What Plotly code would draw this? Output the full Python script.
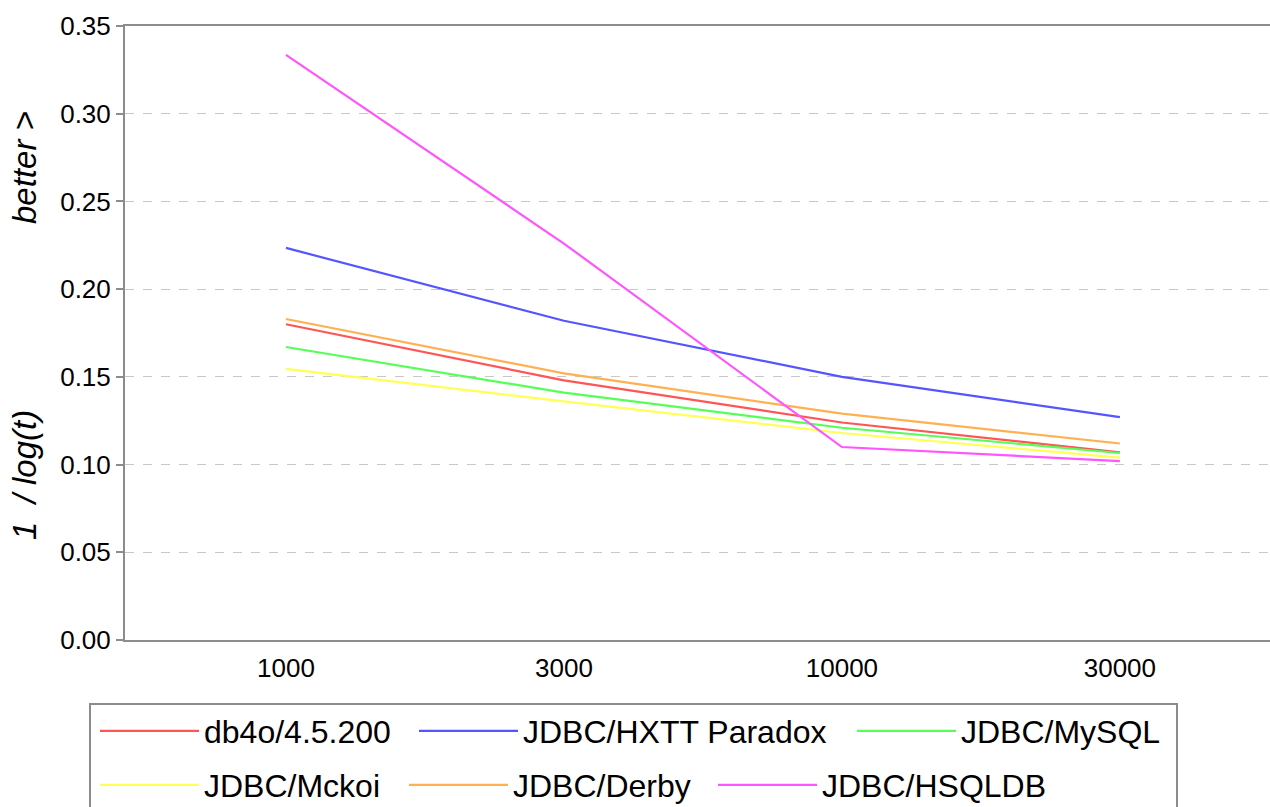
import plotly.graph_objects as go

categories = ["1000", "3000", "10000", "30000"]
series_names = ["db4o/4.5.200", "JDBC/HXTT Paradox", "JDBC/MySQL",
                "JDBC/Mckoi", "JDBC/Derby", "JDBC/HSQLDB"]
db4o = [0.180, 0.148, 0.124, 0.107]
hxtt = [0.2235, 0.182, 0.150, 0.127]
mysql = [0.167, 0.141, 0.121, 0.1066]
mckoi = [0.1545, 0.136, 0.118, 0.104]
derby = [0.183, 0.152, 0.129, 0.112]
hsqldb = [0.3335, 0.226, 0.110, 0.102]
y_ticks = [0.00, 0.05, 0.10, 0.15, 0.20, 0.25, 0.30, 0.35]

values = [db4o, hxtt, mysql, mckoi, derby, hsqldb]
colors = ["#ff5555", "#5555ff", "#55ff55", "#ffff55", "#ffb050", "#ff55ff"]

FONT = "Liberation Sans, Arial, sans-serif"
OFF = 0  # body margin removed via post_script
PL, PT, PW, PH = 125 - OFF, 26 - OFF, 1145, 614
FW, FH = 1270 - OFF, 807 - OFF


def px_x(p):
    return (p - OFF - PL) / PW


def px_y(p):
    return (PT + PH - (p - OFF)) / PH


fig = go.Figure()
legend_ids = ["legend", "legend2", "legend3", "legend4", "legend5", "legend6"]
for name, vals, col, lid in zip(series_names, values, colors, legend_ids):
    fig.add_trace(go.Scatter(x=categories, y=vals, mode="lines", name=name,
                             line=dict(color=col, width=2.2), legend=lid,
                             showlegend=True))

# legend anchor positions (window pixels) for each legend
leg_pos = [(95, 731), (414, 731), (852, 731), (95, 785), (404, 785), (713, 785)]
layout_legends = {}
for lid, (lx, ly) in zip(legend_ids, leg_pos):
    layout_legends[lid] = dict(
        x=px_x(lx), y=px_y(ly), xanchor="left", yanchor="middle",
        xref="paper", yref="paper", orientation="v",
        bgcolor="rgba(0,0,0,0)", borderwidth=0, itemwidth=99,
        font=dict(family=FONT, size=32, color="#000"),
        itemclick=False, itemdoubleclick=False,
    )

fig.update_layout(
    width=FW, height=FH,
    showlegend=True,
    margin=dict(l=PL, r=FW - PL - PW, t=PT, b=FH - PT - PH, autoexpand=False),
    paper_bgcolor="white", plot_bgcolor="white",
    font=dict(family=FONT, size=26, color="#000"),
    **layout_legends,
    xaxis=dict(type="category", range=[-0.579, 3.54], showgrid=False,
               showline=True, linecolor="#8c8c8c", linewidth=2, mirror=True,
               ticks="", tickfont=dict(size=26), ticklabelstandoff=4,
               zeroline=False),
    yaxis=dict(range=[0, 0.35], tickvals=y_ticks, tickformat=".2f",
               showgrid=True, gridcolor="#c8c8c8", griddash="dash",
               gridwidth=1, showline=True, linecolor="#8c8c8c", linewidth=2,
               ticks="outside", ticklen=7, tickcolor="#8c8c8c", tickwidth=2,
               tickfont=dict(size=26), zeroline=False),
    shapes=[dict(type="rect", xref="paper", yref="paper",
                 x0=px_x(90), x1=px_x(1177), y0=px_y(704), y1=px_y(840),
                 line=dict(color="#8c8c8c", width=2), fillcolor="rgba(0,0,0,0)")],
    annotations=[
        dict(text="<i>better &gt;</i>", xref="paper", yref="paper",
             x=px_x(24), y=px_y(168), textangle=-90, showarrow=False,
             font=dict(size=33, family=FONT), xanchor="center", yanchor="middle"),
        dict(text="<i>1\u00a0\u00a0/\u00a0log(t)</i>", xref="paper", yref="paper",
             x=px_x(24), y=px_y(475), textangle=-90, showarrow=False,
             font=dict(size=33, family=FONT), xanchor="center", yanchor="middle"),
    ],
)

fig.write_html(
    "out.html",
    config={"displayModeBar": False},
    post_script="document.body.style.margin='0';document.body.style.overflow='hidden';",
)
